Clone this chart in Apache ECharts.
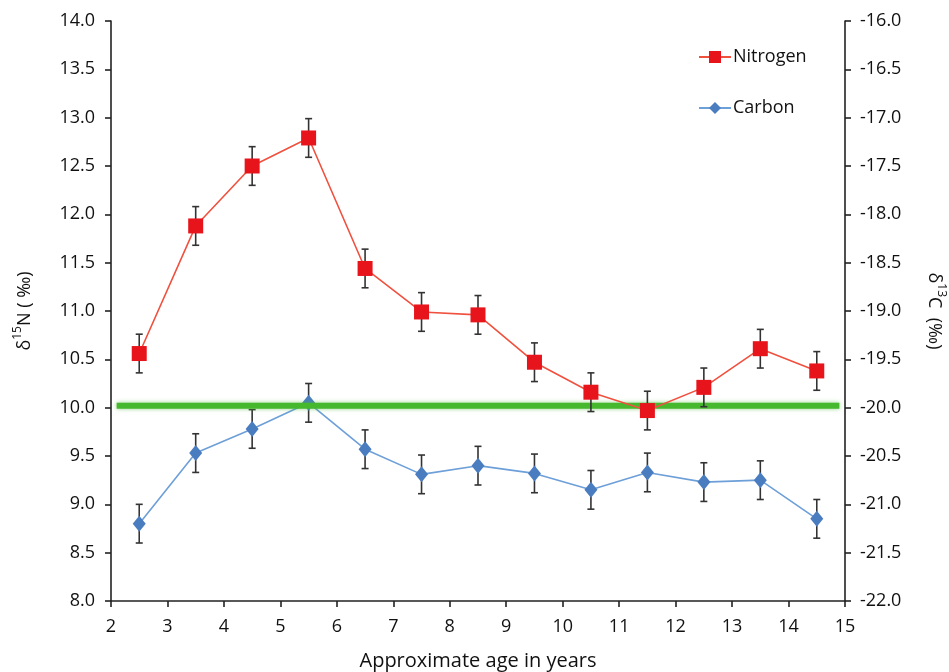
<!DOCTYPE html>
<html>
<head>
<meta charset="utf-8">
<script src="https://cdn.jsdelivr.net/npm/echarts@6/dist/echarts.min.js"></script>
<style>
html,body{margin:0;padding:0;background:#fff;}
#chart{width:949px;height:672px;}
</style>
</head>
<body>
<div id="chart"></div>
<script>
const ages = [2.5, 3.5, 4.5, 5.5, 6.5, 7.5, 8.5, 9.5, 10.5, 11.5, 12.5, 13.5, 14.5];
const nitrogen = [10.56, 11.88, 12.5, 12.79, 11.44, 10.99, 10.96, 10.47, 10.16, 9.97, 10.21, 10.61, 10.38];
const nitrogenErr = [0.2, 0.2, 0.2, 0.2, 0.2, 0.2, 0.2, 0.2, 0.2, 0.2, 0.2, 0.2, 0.2];
const carbon = [-21.2, -20.47, -20.22, -19.95, -20.43, -20.69, -20.6, -20.68, -20.85, -20.67, -20.77, -20.75, -21.15];
const carbonErr = [0.2, 0.2, 0.2, 0.2, 0.2, 0.2, 0.2, 0.2, 0.2, 0.2, 0.2, 0.2, 0.2];
const baselineX = [2.1, 14.9];
const baselineN = 10.02;
const xTicks = [2, 15, 1];
const leftTicks = [8, 14, 0.5];
const rightTicks = [-22, -16, 0.5];

const FONT = 'Open Sans';
const TXT = '#111';

function errData(xs, ys, es) {
  return xs.map((x, i) => [x, ys[i] - es[i], ys[i] + es[i]]);
}
function errRender(params, api) {
  const x = api.value(0);
  const lo = api.coord([x, api.value(1)]);
  const hi = api.coord([x, api.value(2)]);
  const w = 3.5;
  const style = { stroke: '#333', lineWidth: 1.6 };
  return {
    type: 'group',
    children: [
      { type: 'line', shape: { x1: lo[0], y1: lo[1], x2: hi[0], y2: hi[1] }, style },
      { type: 'line', shape: { x1: lo[0] - w, y1: lo[1], x2: lo[0] + w, y2: lo[1] }, style },
      { type: 'line', shape: { x1: hi[0] - w, y1: hi[1], x2: hi[0] + w, y2: hi[1] }, style }
    ]
  };
}

const axisLine = { show: true, onZero: false, lineStyle: { color: '#222', width: 1.6 } };
const axisTick = { show: true, inside: false, length: 6, lineStyle: { color: '#222', width: 1.6 } };
const nameRich = {
  a: { fontFamily: FONT, fontSize: 18, color: TXT, lineHeight: 22, verticalAlign: 'bottom' },
  s: { fontFamily: FONT, fontSize: 12, color: TXT, lineHeight: 22, verticalAlign: 'top', padding: [0, 0, 6, 0] }
};

const chart = echarts.init(document.getElementById('chart'));
chart.setOption({
  animation: false,
  backgroundColor: '#fff',
  textStyle: { fontFamily: FONT },
  grid: { left: 111, right: 104, top: 21, bottom: 71, containLabel: false, outerBoundsMode: 'none' },
  legend: {
    orient: 'vertical',
    left: 693,
    top: 43,
    itemGap: 33,
    itemWidth: 32,
    itemHeight: 15,
    data: ['Nitrogen', 'Carbon'],
    textStyle: { fontFamily: FONT, fontSize: 18, color: TXT, padding: [0, 0, 0, -3] }
  },
  xAxis: {
    type: 'value',
    min: xTicks[0], max: xTicks[1], interval: xTicks[2],
    name: 'Approximate age in years',
    nameLocation: 'middle',
    nameGap: 50,
    nameTextStyle: { fontFamily: FONT, fontSize: 20, color: TXT },
    axisLine, axisTick,
    splitLine: { show: false },
    axisLabel: { margin: 17, fontFamily: FONT, fontSize: 18, color: TXT }
  },
  yAxis: [
    {
      type: 'value',
      min: leftTicks[0], max: leftTicks[1], interval: leftTicks[2],
      position: 'left',
      name: '{a|δ}{s|15}{a|N ( ‰)}',
      nameLocation: 'middle',
      nameGap: 77,
      nameTextStyle: { fontFamily: FONT, fontSize: 18, color: TXT, rich: nameRich },
      axisLine, axisTick,
      splitLine: { show: false },
      axisLabel: { margin: 16, fontFamily: FONT, fontSize: 18, color: TXT, formatter: v => v.toFixed(1) }
    },
    {
      type: 'value',
      min: rightTicks[0], max: rightTicks[1], interval: rightTicks[2],
      position: 'right',
      name: '{a|δ}{s|13}{a|C  (‰)}',
      nameLocation: 'middle',
      nameGap: 80,
      nameRotate: -90,
      nameTextStyle: { fontFamily: FONT, fontSize: 18, color: TXT, rich: nameRich },
      axisLine, axisTick,
      splitLine: { show: false },
      axisLabel: { margin: 15, fontFamily: FONT, fontSize: 18, color: TXT, formatter: v => v.toFixed(1) }
    }
  ],
  series: [
    {
      name: 'CarbonErr', type: 'custom', yAxisIndex: 1, z: 2,
      renderItem: errRender, data: errData(ages, carbon, carbonErr), silent: true
    },
    {
      name: 'Carbon', type: 'line', yAxisIndex: 1, z: 3,
      data: ages.map((x, i) => [x, carbon[i]]),
      symbol: 'diamond', symbolSize: [13, 16],
      itemStyle: { color: '#4a7dc0' },
      lineStyle: { color: '#6d9fd8', width: 1.6 }
    },
    {
      name: 'Baseline', type: 'line', yAxisIndex: 0, z: 4,
      data: baselineX.map(x => [x, baselineN]),
      symbol: 'none', silent: true,
      lineStyle: { color: '#46b82e', width: 6, shadowColor: 'rgba(70,184,46,0.6)', shadowBlur: 4 }
    },
    {
      name: 'NitrogenErr', type: 'custom', yAxisIndex: 0, z: 5,
      renderItem: errRender, data: errData(ages, nitrogen, nitrogenErr), silent: true
    },
    {
      name: 'Nitrogen', type: 'line', yAxisIndex: 0, z: 6,
      data: ages.map((x, i) => [x, nitrogen[i]]),
      symbol: 'rect', symbolSize: 15,
      itemStyle: { color: '#e8141c' },
      lineStyle: { color: '#f0513f', width: 1.6 }
    }
  ]
});
</script>
</body>
</html>
